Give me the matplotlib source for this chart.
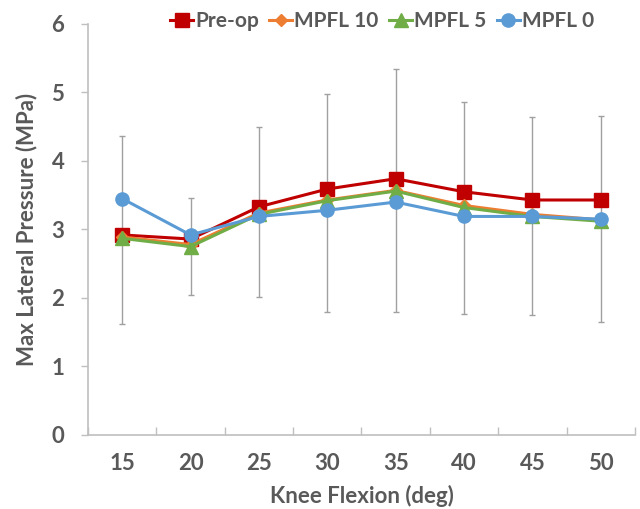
import matplotlib
matplotlib.use("Agg")
import matplotlib.pyplot as plt
import numpy as np

# Data
flexion = ["15", "20", "25", "30", "35", "40", "45", "50"]
pre_op = [2.92, 2.86, 3.33, 3.59, 3.74, 3.55, 3.43, 3.43]
mpfl_10 = [2.89, 2.78, 3.24, 3.43, 3.57, 3.35, 3.22, 3.14]
mpfl_5 = [2.87, 2.75, 3.22, 3.42, 3.56, 3.32, 3.19, 3.12]
mpfl_0 = [3.45, 2.92, 3.19, 3.28, 3.40, 3.19, 3.19, 3.15]
err_low = [1.62, 2.05, 2.02, 1.80, 1.80, 1.76, 1.75, 1.65]
err_high = [4.36, 3.46, 4.49, 4.98, 5.34, 4.86, 4.64, 4.66]

TEXT = "#595959"
AXIS = "#bfbfbf"
FONT = ["Lato", "DejaVu Sans"]

plt.rcParams["font.family"] = FONT

fig = plt.figure(figsize=(6.4, 5.09), dpi=100)
ax = fig.add_axes([0.1375, 0.1454, 0.8545, 0.8076])

x = np.arange(len(flexion))

# error bars (attached to MPFL 5 series)
center = np.array(mpfl_5)
yerr = [center - np.array(err_low), np.array(err_high) - center]
ax.errorbar(x, center, yerr=yerr, fmt="none", ecolor="#a0a0a0",
            elinewidth=1.0, capsize=2.5, capthick=1.0, zorder=1)

ax.plot(x, pre_op, color="#C00000", marker="s", markersize=9.5, lw=2.2,
        label="Pre-op", zorder=2)
ax.plot(x, mpfl_10, color="#ED7D31", marker="D", markersize=6, lw=2.2,
        label="MPFL 10", zorder=3)
ax.plot(x, mpfl_5, color="#70AD47", marker="^", markersize=9.5, lw=2.2,
        label="MPFL 5", zorder=4)
ax.plot(x, mpfl_0, color="#5B9BD5", marker="o", markersize=9.5, lw=2.2,
        label="MPFL 0", zorder=5)

ax.set_xlim(-0.5, len(flexion) - 0.5)
ax.set_ylim(0, 6)
ax.set_yticks(range(0, 7))

# category labels centered, tick marks on boundaries
ax.set_xticks(x)
ax.set_xticklabels(flexion)
ax.tick_params(axis="x", length=0, pad=13)
ax.set_xticks(np.arange(len(flexion) + 1) - 0.5, minor=True)
ax.tick_params(axis="x", which="minor", direction="in", length=6,
               color=AXIS, width=1)
ax.tick_params(axis="y", direction="out", length=5, color=AXIS, width=1,
               pad=12)

for lbl in ax.get_xticklabels() + ax.get_yticklabels():
    lbl.set_fontsize(16)
    lbl.set_fontweight("bold")
    lbl.set_color(TEXT)

for side in ["top", "right"]:
    ax.spines[side].set_visible(False)
for side in ["left", "bottom"]:
    ax.spines[side].set_color(AXIS)
    ax.spines[side].set_linewidth(1.2)

ax.set_xlabel("Knee Flexion (deg)", fontsize=16, fontweight="bold",
              color=TEXT, labelpad=8)
ax.set_ylabel("Max Lateral Pressure (MPa)", fontsize=16, fontweight="bold",
              color=TEXT, labelpad=10)

leg = fig.legend(loc="center", bbox_to_anchor=(0.597, 0.958), ncol=4,
                 frameon=False, handlelength=1.1, handletextpad=0.1,
                 columnspacing=0.5, prop={"size": 15, "weight": "bold"})
for t in leg.get_texts():
    t.set_color(TEXT)

fig.savefig("out.png", dpi=100)
